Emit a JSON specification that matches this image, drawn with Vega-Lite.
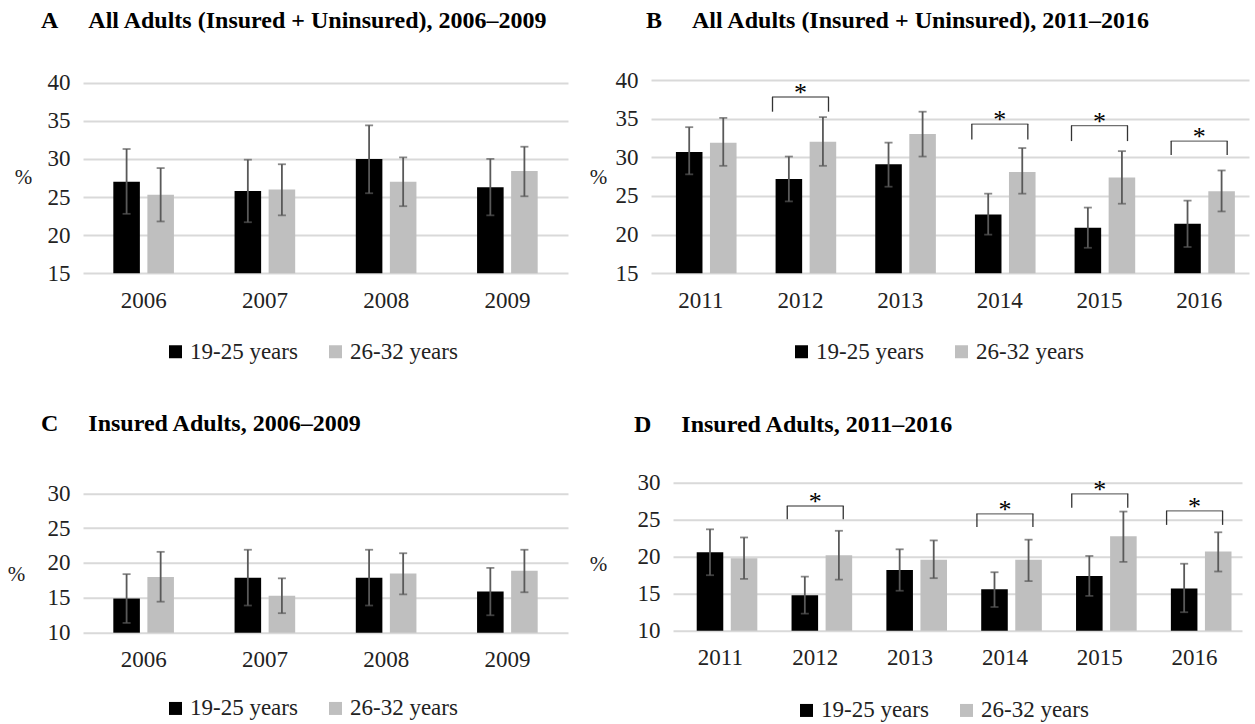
{
  "$schema": "https://vega.github.io/schema/vega-lite/v6.json",
  "padding": {"left": 7, "top": 8, "right": 5, "bottom": 5},
  "background": "white",
  "config": {
    "font": "Liberation Serif",
    "view": {"stroke": null},
    "axis": {"labelFont": "Liberation Serif", "labelFontSize": 23, "labelColor": "#222222", "domain": false, "ticks": false, "gridColor": "#d9d9d9", "gridWidth": 2, "titleFont": "Liberation Serif", "titleFontSize": 21, "titleFontWeight": "normal", "titleColor": "#222222", "labelOverlap": false},
    "axisX": {"grid": false, "labelAngle": 0, "labelPadding": 16},
    "axisY": {"grid": true, "labelPadding": 13, "titleAngle": 0, "titleAlign": "center", "titleBaseline": "middle"},
    "legend": {"labelFont": "Liberation Serif", "labelFontSize": 23, "labelColor": "#222222", "symbolType": "square", "symbolSize": 169, "symbolStrokeWidth": 0, "columnPadding": 26, "labelOffset": 3, "padding": 0},
    "title": {"font": "Liberation Serif", "fontSize": 24, "fontWeight": "bold", "color": "#000000", "anchor": "start", "frame": "group"}
  },
  "datasets": {
    "A": [
      {"year": "2006", "group": "19-25 years", "value": 27.0, "lo": 22.8, "hi": 31.3},
      {"year": "2006", "group": "26-32 years", "value": 25.3, "lo": 21.8, "hi": 28.8},
      {"year": "2007", "group": "19-25 years", "value": 25.8, "lo": 21.7, "hi": 29.9},
      {"year": "2007", "group": "26-32 years", "value": 26.0, "lo": 22.6, "hi": 29.3},
      {"year": "2008", "group": "19-25 years", "value": 30.0, "lo": 25.5, "hi": 34.4},
      {"year": "2008", "group": "26-32 years", "value": 27.0, "lo": 23.8, "hi": 30.2},
      {"year": "2009", "group": "19-25 years", "value": 26.3, "lo": 22.6, "hi": 30.0},
      {"year": "2009", "group": "26-32 years", "value": 28.4, "lo": 25.1, "hi": 31.6}
    ],
    "B": [
      {"year": "2011", "group": "19-25 years", "value": 30.7, "lo": 27.8, "hi": 33.9},
      {"year": "2011", "group": "26-32 years", "value": 31.9, "lo": 28.9, "hi": 35.1},
      {"year": "2012", "group": "19-25 years", "value": 27.2, "lo": 24.3, "hi": 30.1},
      {"year": "2012", "group": "26-32 years", "value": 32.0, "lo": 28.9, "hi": 35.2},
      {"year": "2013", "group": "19-25 years", "value": 29.1, "lo": 26.2, "hi": 31.9},
      {"year": "2013", "group": "26-32 years", "value": 33.0, "lo": 30.1, "hi": 35.9},
      {"year": "2014", "group": "19-25 years", "value": 22.6, "lo": 20.0, "hi": 25.3},
      {"year": "2014", "group": "26-32 years", "value": 28.1, "lo": 25.3, "hi": 31.2},
      {"year": "2015", "group": "19-25 years", "value": 20.9, "lo": 18.3, "hi": 23.5},
      {"year": "2015", "group": "26-32 years", "value": 27.4, "lo": 24.0, "hi": 30.8},
      {"year": "2016", "group": "19-25 years", "value": 21.4, "lo": 18.4, "hi": 24.4},
      {"year": "2016", "group": "26-32 years", "value": 25.6, "lo": 23.0, "hi": 28.3}
    ],
    "Bsig": [
      {"year": "2012", "top": 37.8, "leg": 35.9},
      {"year": "2014", "top": 34.3, "leg": 32.3},
      {"year": "2015", "top": 34.1, "leg": 32.1},
      {"year": "2016", "top": 32.1, "leg": 30.3}
    ],
    "C": [
      {"year": "2006", "group": "19-25 years", "value": 14.9, "lo": 11.4, "hi": 18.4},
      {"year": "2006", "group": "26-32 years", "value": 18.0, "lo": 14.45, "hi": 21.6},
      {"year": "2007", "group": "19-25 years", "value": 17.9, "lo": 13.9, "hi": 21.9},
      {"year": "2007", "group": "26-32 years", "value": 15.3, "lo": 12.8, "hi": 17.8},
      {"year": "2008", "group": "19-25 years", "value": 17.9, "lo": 13.9, "hi": 21.9},
      {"year": "2008", "group": "26-32 years", "value": 18.5, "lo": 15.5, "hi": 21.4},
      {"year": "2009", "group": "19-25 years", "value": 15.9, "lo": 12.5, "hi": 19.3},
      {"year": "2009", "group": "26-32 years", "value": 18.9, "lo": 15.8, "hi": 21.9}
    ],
    "D": [
      {"year": "2011", "group": "19-25 years", "value": 20.6, "lo": 17.5, "hi": 23.7},
      {"year": "2011", "group": "26-32 years", "value": 19.8, "lo": 17.0, "hi": 22.6},
      {"year": "2012", "group": "19-25 years", "value": 14.8, "lo": 12.3, "hi": 17.3},
      {"year": "2012", "group": "26-32 years", "value": 20.2, "lo": 16.9, "hi": 23.5},
      {"year": "2013", "group": "19-25 years", "value": 18.2, "lo": 15.4, "hi": 21.0},
      {"year": "2013", "group": "26-32 years", "value": 19.6, "lo": 17.1, "hi": 22.2},
      {"year": "2014", "group": "19-25 years", "value": 15.6, "lo": 13.2, "hi": 17.9},
      {"year": "2014", "group": "26-32 years", "value": 19.6, "lo": 16.7, "hi": 22.3},
      {"year": "2015", "group": "19-25 years", "value": 17.4, "lo": 14.7, "hi": 20.1},
      {"year": "2015", "group": "26-32 years", "value": 22.75, "lo": 19.3, "hi": 26.1},
      {"year": "2016", "group": "19-25 years", "value": 15.7, "lo": 12.5, "hi": 19.05},
      {"year": "2016", "group": "26-32 years", "value": 20.7, "lo": 18.0, "hi": 23.3}
    ],
    "Dsig": [
      {"year": "2012", "top": 26.85, "leg": 25.05},
      {"year": "2014", "top": 25.8, "leg": 24.0},
      {"year": "2015", "top": 28.5, "leg": 26.6},
      {"year": "2016", "top": 26.2, "leg": 24.3}
    ]
  },
  "resolve": {"scale": {"color": "independent"}, "legend": {"color": "independent"}},
  "bounds": "flush",
  "spacing": 402.7,
  "vconcat": [
    {
      "hconcat": [
        {
          "width": 485, "height": 193.3,
          "title": {"text": "A\u00a0\u00a0\u00a0\u00a0\u00a0All Adults (Insured + Uninsured), 2006–2009", "dx": -42, "offset": 38.7},
          "encoding": {"x": {"field": "year", "type": "nominal", "title": null, "scale": {"paddingInner": 0.5, "paddingOuter": 0.25}}},
          "layer": [
            {"data": {"name": "A"}, "mark": {"type": "bar"}, "encoding": {
              "xOffset": {"field": "group", "type": "nominal", "scale": {"paddingInner": 0.22}},
              "y": {"field": "value", "type": "quantitative", "title": "%", "scale": {"domain": [15, 40.35], "nice": false, "zero": false}, "axis": {"values": [15, 20, 25, 30, 35, 40], "tickCount": 10, "titleX": -60, "titleY": 97}},
              "y2": {"datum": 15},
              "color": {"field": "group", "type": "nominal", "scale": {"domain": ["19-25 years", "26-32 years"], "range": ["#000000", "#bfbfbf"]}, "legend": {"orient": "none", "legendX": 81, "legendY": 260, "direction": "horizontal", "title": null}}}},
            {"data": {"name": "A"}, "mark": {"type": "rule", "color": "#595959", "strokeWidth": 1.8}, "encoding": {
              "xOffset": {"field": "group", "type": "nominal"},
              "y": {"field": "lo", "type": "quantitative", "title": "%", "scale": {"domain": [15, 40.35], "nice": false, "zero": false}},
              "y2": {"field": "hi"}}},
            {"data": {"name": "A"}, "mark": {"type": "tick", "color": "#595959", "thickness": 1.8, "size": 8}, "encoding": {
              "xOffset": {"field": "group", "type": "nominal"},
              "y": {"field": "lo", "type": "quantitative", "title": "%", "scale": {"domain": [15, 40.35], "nice": false, "zero": false}}}},
            {"data": {"name": "A"}, "mark": {"type": "tick", "color": "#595959", "thickness": 1.8, "size": 8}, "encoding": {
              "xOffset": {"field": "group", "type": "nominal"},
              "y": {"field": "hi", "type": "quantitative", "title": "%", "scale": {"domain": [15, 40.35], "nice": false, "zero": false}}}}
          ]
        },
        {
          "width": 598, "height": 193.3,
          "title": {"text": "B\u00a0\u00a0\u00a0\u00a0\u00a0All Adults (Insured + Uninsured), 2011–2016", "dx": -5, "offset": 36},
          "encoding": {"x": {"field": "year", "type": "nominal", "title": null, "scale": {"paddingInner": 0.5, "paddingOuter": 0.25}}},
          "layer": [
            {"data": {"name": "B"}, "mark": {"type": "bar"}, "encoding": {
              "xOffset": {"field": "group", "type": "nominal", "scale": {"paddingInner": 0.21}},
              "y": {"field": "value", "type": "quantitative", "title": "%", "scale": {"domain": [15, 40], "nice": false, "zero": false}, "axis": {"values": [15, 20, 25, 30, 35, 40], "tickCount": 10, "titleX": -53, "titleY": 97}},
              "y2": {"datum": 15},
              "color": {"field": "group", "type": "nominal", "scale": {"domain": ["19-25 years", "26-32 years"], "range": ["#000000", "#bfbfbf"]}, "legend": {"orient": "none", "legendX": 139, "legendY": 260, "direction": "horizontal", "title": null}}}},
            {"data": {"name": "B"}, "mark": {"type": "rule", "color": "#595959", "strokeWidth": 1.8}, "encoding": {
              "xOffset": {"field": "group", "type": "nominal"},
              "y": {"field": "lo", "type": "quantitative", "title": "%", "scale": {"domain": [15, 40], "nice": false, "zero": false}},
              "y2": {"field": "hi"}}},
            {"data": {"name": "B"}, "mark": {"type": "tick", "color": "#595959", "thickness": 1.8, "size": 8}, "encoding": {
              "xOffset": {"field": "group", "type": "nominal"},
              "y": {"field": "lo", "type": "quantitative", "title": "%", "scale": {"domain": [15, 40], "nice": false, "zero": false}}}},
            {"data": {"name": "B"}, "mark": {"type": "tick", "color": "#595959", "thickness": 1.8, "size": 8}, "encoding": {
              "xOffset": {"field": "group", "type": "nominal"},
              "y": {"field": "hi", "type": "quantitative", "title": "%", "scale": {"domain": [15, 40], "nice": false, "zero": false}}}},
            {"data": {"name": "Bsig"}, "mark": {"type": "tick", "color": "#333333", "thickness": 1.3, "size": 57}, "encoding": {
              "y": {"field": "top", "type": "quantitative", "title": "%", "scale": {"domain": [15, 40], "nice": false, "zero": false}}}},
            {"data": {"name": "Bsig"}, "mark": {"type": "rule", "color": "#333333", "strokeWidth": 1.3, "xOffset": -28}, "encoding": {
              "y": {"field": "top", "type": "quantitative", "title": "%", "scale": {"domain": [15, 40], "nice": false, "zero": false}},
              "y2": {"field": "leg"}}},
            {"data": {"name": "Bsig"}, "mark": {"type": "rule", "color": "#333333", "strokeWidth": 1.3, "xOffset": 28}, "encoding": {
              "y": {"field": "top", "type": "quantitative", "title": "%", "scale": {"domain": [15, 40], "nice": false, "zero": false}},
              "y2": {"field": "leg"}}},
            {"data": {"name": "Bsig"}, "mark": {"type": "text", "text": "*", "fontSize": 26, "baseline": "alphabetic", "dy": 4, "color": "#000000"}, "encoding": {
              "y": {"field": "top", "type": "quantitative", "title": "%", "scale": {"domain": [15, 40], "nice": false, "zero": false}}}}
          ]
        }
      ],
      "spacing": 83,
      "bounds": "flush",
      "resolve": {"scale": {"color": "independent"}, "legend": {"color": "independent"}}
    },
    {
      "hconcat": [
        {
          "width": 485, "height": 150,
          "title": {"text": "C\u00a0\u00a0\u00a0\u00a0\u00a0Insured Adults, 2006–2009", "dx": -42, "offset": 46},
          "encoding": {"x": {"field": "year", "type": "nominal", "title": null, "scale": {"paddingInner": 0.5, "paddingOuter": 0.25}}},
          "layer": [
            {"data": {"name": "C"}, "mark": {"type": "bar"}, "encoding": {
              "xOffset": {"field": "group", "type": "nominal", "scale": {"paddingInner": 0.22}},
              "y": {"field": "value", "type": "quantitative", "title": "%", "scale": {"domain": [10, 31.52], "nice": false, "zero": false}, "axis": {"values": [10, 15, 20, 25, 30], "tickCount": 10, "titleX": -67, "titleY": 92}},
              "y2": {"datum": 10},
              "color": {"field": "group", "type": "nominal", "scale": {"domain": ["19-25 years", "26-32 years"], "range": ["#000000", "#bfbfbf"]}, "legend": {"orient": "none", "legendX": 81, "legendY": 214, "direction": "horizontal", "title": null}}}},
            {"data": {"name": "C"}, "mark": {"type": "rule", "color": "#595959", "strokeWidth": 1.8}, "encoding": {
              "xOffset": {"field": "group", "type": "nominal"},
              "y": {"field": "lo", "type": "quantitative", "title": "%", "scale": {"domain": [10, 31.52], "nice": false, "zero": false}},
              "y2": {"field": "hi"}}},
            {"data": {"name": "C"}, "mark": {"type": "tick", "color": "#595959", "thickness": 1.8, "size": 8}, "encoding": {
              "xOffset": {"field": "group", "type": "nominal"},
              "y": {"field": "lo", "type": "quantitative", "title": "%", "scale": {"domain": [10, 31.52], "nice": false, "zero": false}}}},
            {"data": {"name": "C"}, "mark": {"type": "tick", "color": "#595959", "thickness": 1.8, "size": 8}, "encoding": {
              "xOffset": {"field": "group", "type": "nominal"},
              "y": {"field": "hi", "type": "quantitative", "title": "%", "scale": {"domain": [10, 31.52], "nice": false, "zero": false}}}}
          ]
        },
        {
          "width": 569, "height": 148,
          "title": {"text": "D\u00a0\u00a0\u00a0\u00a0\u00a0Insured Adults, 2011–2016", "dx": -39, "offset": 35},
          "encoding": {"x": {"field": "year", "type": "nominal", "title": null, "scale": {"paddingInner": 0.5, "paddingOuter": 0.25}}},
          "layer": [
            {"data": {"name": "D"}, "mark": {"type": "bar"}, "encoding": {
              "xOffset": {"field": "group", "type": "nominal", "scale": {"paddingInner": 0.21}},
              "y": {"field": "value", "type": "quantitative", "title": "%", "scale": {"domain": [10, 30], "nice": false, "zero": false}, "axis": {"values": [10, 15, 20, 25, 30], "tickCount": 10, "titleX": -75, "titleY": 82}},
              "y2": {"datum": 10},
              "color": {"field": "group", "type": "nominal", "scale": {"domain": ["19-25 years", "26-32 years"], "range": ["#000000", "#bfbfbf"]}, "legend": {"orient": "none", "legendX": 122, "legendY": 216, "direction": "horizontal", "title": null}}}},
            {"data": {"name": "D"}, "mark": {"type": "rule", "color": "#595959", "strokeWidth": 1.8}, "encoding": {
              "xOffset": {"field": "group", "type": "nominal"},
              "y": {"field": "lo", "type": "quantitative", "title": "%", "scale": {"domain": [10, 30], "nice": false, "zero": false}},
              "y2": {"field": "hi"}}},
            {"data": {"name": "D"}, "mark": {"type": "tick", "color": "#595959", "thickness": 1.8, "size": 8}, "encoding": {
              "xOffset": {"field": "group", "type": "nominal"},
              "y": {"field": "lo", "type": "quantitative", "title": "%", "scale": {"domain": [10, 30], "nice": false, "zero": false}}}},
            {"data": {"name": "D"}, "mark": {"type": "tick", "color": "#595959", "thickness": 1.8, "size": 8}, "encoding": {
              "xOffset": {"field": "group", "type": "nominal"},
              "y": {"field": "hi", "type": "quantitative", "title": "%", "scale": {"domain": [10, 30], "nice": false, "zero": false}}}},
            {"data": {"name": "Dsig"}, "mark": {"type": "tick", "color": "#333333", "thickness": 1.3, "size": 57}, "encoding": {
              "y": {"field": "top", "type": "quantitative", "title": "%", "scale": {"domain": [10, 30], "nice": false, "zero": false}}}},
            {"data": {"name": "Dsig"}, "mark": {"type": "rule", "color": "#333333", "strokeWidth": 1.3, "xOffset": -28}, "encoding": {
              "y": {"field": "top", "type": "quantitative", "title": "%", "scale": {"domain": [10, 30], "nice": false, "zero": false}},
              "y2": {"field": "leg"}}},
            {"data": {"name": "Dsig"}, "mark": {"type": "rule", "color": "#333333", "strokeWidth": 1.3, "xOffset": 28}, "encoding": {
              "y": {"field": "top", "type": "quantitative", "title": "%", "scale": {"domain": [10, 30], "nice": false, "zero": false}},
              "y2": {"field": "leg"}}},
            {"data": {"name": "Dsig"}, "mark": {"type": "text", "text": "*", "fontSize": 26, "baseline": "alphabetic", "dy": 4, "color": "#000000"}, "encoding": {
              "y": {"field": "top", "type": "quantitative", "title": "%", "scale": {"domain": [10, 30], "nice": false, "zero": false}}}}
          ]
        }
      ],
      "spacing": 105,
      "bounds": "flush",
      "resolve": {"scale": {"color": "independent"}, "legend": {"color": "independent"}}
    }
  ]
}
